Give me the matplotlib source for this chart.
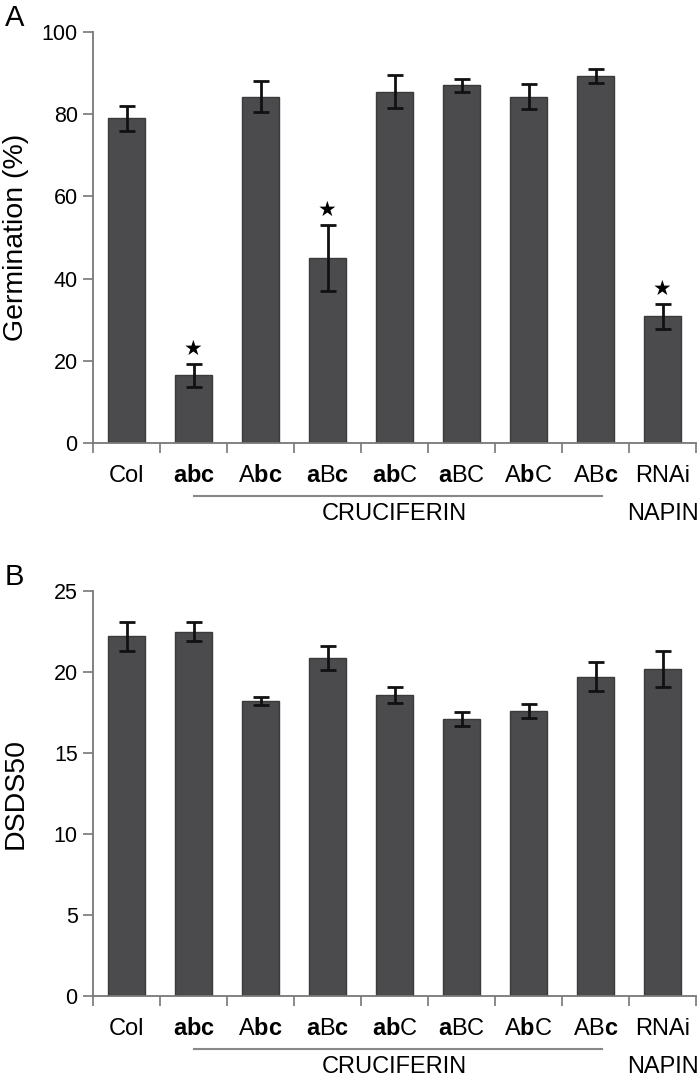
import numpy as np
import matplotlib
matplotlib.use('Agg')
import matplotlib.pyplot as plt
import matplotlib.transforms as mtransforms

plt.rcParams['font.family'] = ['Liberation Sans', 'DejaVu Sans']
plt.rcParams['mathtext.fontset'] = 'custom'
plt.rcParams['mathtext.rm'] = 'Liberation Sans'
plt.rcParams['mathtext.bf'] = 'Liberation Sans:bold'

# lowercase letters are bold in the labels
labels = ['Col', r'$\mathbf{abc}$', r'A$\mathbf{bc}$', r'$\mathbf{a}$B$\mathbf{c}$',
          r'$\mathbf{ab}$C', r'$\mathbf{a}$BC', r'A$\mathbf{b}$C', r'AB$\mathbf{c}$', 'RNAi']

germ = [79.0, 16.5, 84.3, 45.0, 85.5, 87.0, 84.3, 89.3, 30.8]
germ_err = [3.0, 2.8, 3.7, 8.0, 4.0, 1.5, 3.0, 1.8, 3.0]
germ_star = [1, 3, 8]

dsds = [22.2, 22.5, 18.2, 20.85, 18.6, 17.1, 17.6, 19.7, 20.2]
dsds_err = [0.9, 0.6, 0.25, 0.75, 0.5, 0.45, 0.45, 0.9, 1.1]

W, H = 700, 1083
fig = plt.figure(figsize=(W / 100, H / 100), dpi=100)

def make_panel(top_px, bot_px, vals, errs, ymax, ystep, ylabel, letter, stars=()):
    left = 93 / W
    width = (696 - 93) / W
    hgt = (bot_px - top_px) / H
    ax = fig.add_axes([left, 1 - bot_px / H, width, hgt])
    x = np.arange(len(vals))
    ax.bar(x, vals, width=0.54, color='#4b4b4d', edgecolor='#3a3a3a', linewidth=1.0, zorder=2)
    ax.errorbar(x, vals, yerr=errs, fmt='none', ecolor='#111111', elinewidth=2,
                capsize=6, capthick=2, zorder=3)
    for i in stars:
        ax.text(i, vals[i] + errs[i] + ymax * 0.012, '\u2605', ha='center', va='bottom',
                fontsize=15, family='DejaVu Sans')
    ax.set_xlim(-0.5, 8.5)
    ax.set_ylim(0, ymax)
    ax.set_yticks(np.arange(0, ymax + 0.1, ystep))
    ax.set_xticks(x)
    ax.set_xticklabels(labels)
    ax.set_xticks(np.arange(-0.5, 9, 1), minor=True)
    ax.tick_params(axis='x', which='major', length=0, pad=16, labelsize=17)
    ax.tick_params(axis='x', which='minor', length=7, width=1.2, color='#777777', direction='out')
    ax.tick_params(axis='y', length=7, width=1.2, color='#777777', labelsize=15.5, pad=4)
    for s in ['top', 'right']:
        ax.spines[s].set_visible(False)
    for s in ['left', 'bottom']:
        ax.spines[s].set_color('#777777')
        ax.spines[s].set_linewidth(1.3)

    # y label and panel letter placed against the left edge
    fig.text(3 / W, 1 - (top_px + bot_px) / 2 / H, ylabel, rotation=90,
             ha='left', va='center', fontsize=20.5)
    fig.text(5 / W, 1 - (top_px - 28) / H, letter, fontsize=21, ha='left', va='top')

    tr = mtransforms.blended_transform_factory(ax.transData, ax.transAxes)
    hpx = bot_px - top_px
    yline = -53 / hpx
    ytxt = -71 / hpx
    ax.plot([1, 7.1], [yline, yline], color='#888888', lw=1.5, transform=tr, clip_on=False)
    ax.text(4, ytxt, 'CRUCIFERIN', transform=tr, ha='center', va='center', fontsize=17)
    ax.text(8, ytxt, 'NAPIN', transform=tr, ha='center', va='center', fontsize=17)
    return ax

make_panel(32, 443, germ, germ_err, 100, 20, 'Germination (%)', 'A', germ_star)
make_panel(591, 996, dsds, dsds_err, 25, 5, 'DSDS50', 'B')

fig.savefig('out.png', dpi=100)
